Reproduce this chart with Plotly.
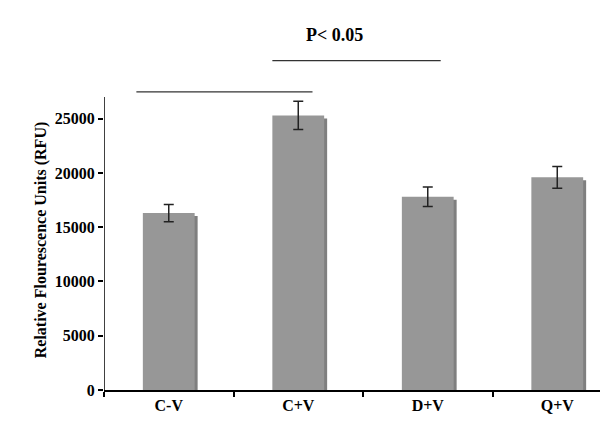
import plotly.graph_objects as go

# data
groups = ["C-V", "C+V", "D+V", "Q+V"]
rfu = [16300, 25300, 17800, 19600]
rfu_err = [800, 1300, 900, 1000]

# significance brackets (category position start/end, height)
sig_lines = [
    (-0.25, 1.11, 27470),
    (0.80, 2.10, 30350),
]
sig_label = "P< 0.05"

font = dict(family="Liberation Serif", size=16, color="black")

fig = go.Figure()

# drop shadow behind each bar
fig.add_trace(go.Bar(
    x=groups, y=[v - 270 for v in rfu],
    width=0.4, offset=-0.177,
    marker=dict(color="#7f7f7f", line=dict(width=0)),
    hoverinfo="skip", showlegend=False,
))

fig.add_trace(go.Bar(
    x=groups, y=rfu,
    width=0.4,
    marker=dict(color="#979797", line=dict(width=0)),
    error_y=dict(type="data", array=rfu_err, color="#222222",
                 thickness=1.5, width=5),
    showlegend=False,
))

for x0, x1, yy in sig_lines:
    fig.add_shape(
        type="line", xref="x", yref="y",
        x0=x0, x1=x1, y0=yy, y1=yy,
        line=dict(color="#333333", width=1.2),
    )

fig.add_annotation(
    x=1.28, y=32700, xref="x", yref="y",
    text="<b>" + sig_label + "</b>", showarrow=False,
    font=dict(family="Liberation Serif", size=18, color="black"),
)

# y axis title centred on the drawn axis line
fig.add_annotation(
    x=-0.127, y=13800, xref="paper", yref="y",
    text="<b>Relative Flourescence Units (RFU)</b>", textangle=-90,
    showarrow=False, xanchor="center", yanchor="middle",
    font=font,
)

# y axis line only up to the top of the data range
fig.add_shape(
    type="line", xref="x", yref="y",
    x0=-0.5, x1=-0.5, y0=0, y1=27000,
    line=dict(color="black", width=1.5),
)

fig.update_layout(
    width=600, height=432,
    margin=dict(l=104, r=0, t=0, b=42),
    barmode="overlay",
    plot_bgcolor="white", paper_bgcolor="white",
    font=font,
    xaxis=dict(
        type="category", range=[-0.5, 3.33],
        showline=True, linecolor="black", linewidth=1.5,
        ticks="outside", tickson="boundaries", ticklen=5,
        tickcolor="black", tickwidth=1.5,
        showgrid=False, zeroline=False,
        tickfont=dict(family="Liberation Serif", size=16, color="black"),
        tickprefix="<b>", ticksuffix="</b>",
    ),
    yaxis=dict(
        range=[0, 35940],
        tickvals=[0, 5000, 10000, 15000, 20000, 25000],
        ticktext=["<b>%d</b>" % v for v in [0, 5000, 10000, 15000, 20000, 25000]],
        showline=False, ticks="outside", ticklen=5,
        tickcolor="black", tickwidth=1.5,
        showgrid=False, zeroline=False,
        tickfont=dict(family="Liberation Serif", size=16, color="black"),
    ),
)

# page body has a default margin; drop it so the figure fills the window
fig.write_html("out.html", config={"displayModeBar": False},
               post_script="document.body.style.margin='0';")
